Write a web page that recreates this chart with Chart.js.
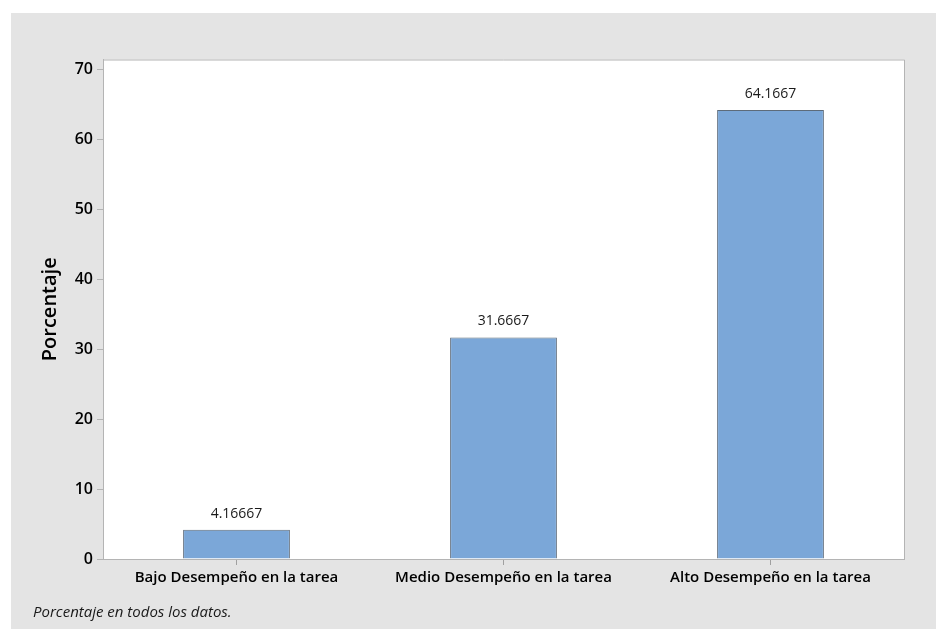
<!DOCTYPE html>
<html>
<head>
<meta charset="utf-8">
<script src="https://cdn.jsdelivr.net/npm/chart.js@4.4.1/dist/chart.umd.min.js"></script>
<style>
  html, body { margin: 0; padding: 0; background: #ffffff; }
  #panel { position: absolute; left: 11px; top: 13px; width: 925px; height: 616px; background: #e4e4e4; }
  #c { display: block; }
</style>
</head>
<body>
<div id="panel"><canvas id="c" width="925" height="616"></canvas></div>
<script>
const categories = ["Bajo Desempeño en la tarea", "Medio Desempeño en la tarea", "Alto Desempeño en la tarea"];
const values = [4.16667, 31.6667, 64.1667];
const valueLabels = ["4.16667", "31.6667", "64.1667"];
const yTicks = [0, 10, 20, 30, 40, 50, 60, 70];
const yTitle = "Porcentaje";
const footnote = "Porcentaje en todos los datos.";

const FONT = "'Open Sans', 'Noto Sans', sans-serif";

const framePlugin = {
  id: 'frame',
  afterDraw(chart) {
    const { ctx, chartArea: a } = chart;
    ctx.save();
    ctx.strokeStyle = '#b4b4b4';
    ctx.lineWidth = 1;
    ctx.beginPath();
    ctx.moveTo(a.left, a.top + 0.5);
    ctx.lineTo(a.right + 0.5, a.top + 0.5);
    ctx.lineTo(a.right + 0.5, a.bottom);
    ctx.stroke();
    ctx.restore();
  }
};

const bgPlugin = {
  id: 'plotbg',
  beforeDraw(chart) {
    const { ctx, chartArea: a } = chart;
    ctx.save();
    ctx.fillStyle = '#ffffff';
    ctx.fillRect(a.left, a.top, a.right - a.left, a.bottom - a.top);
    ctx.restore();
  }
};

const labelPlugin = {
  id: 'valueLabels',
  afterDatasetsDraw(chart) {
    const { ctx } = chart;
    const meta = chart.getDatasetMeta(0);
    ctx.save();
    ctx.fillStyle = '#1a1a1a';
    ctx.font = "14px " + FONT;
    ctx.textAlign = 'center';
    ctx.textBaseline = 'alphabetic';
    meta.data.forEach((bar, i) => {
      ctx.fillText(valueLabels[i], bar.x, bar.y - 12);
    });
    ctx.restore();
  }
};

const footPlugin = {
  id: 'footnote',
  afterDraw(chart) {
    const { ctx } = chart;
    ctx.save();
    ctx.fillStyle = '#1a1a1a';
    ctx.font = "italic 15px " + FONT;
    ctx.textAlign = 'left';
    ctx.textBaseline = 'alphabetic';
    ctx.fillText(footnote, 22, 604);
    ctx.restore();
  }
};

new Chart(document.getElementById('c'), {
  type: 'bar',
  data: {
    labels: categories,
    datasets: [{
      data: values,
      backgroundColor: '#7ba7d8',
      borderColor: '#5d6b7a',
      borderWidth: 1,
      categoryPercentage: 1.0,
      barPercentage: 0.4
    }]
  },
  options: {
    responsive: false,
    animation: false,
    layout: { padding: { left: 0, top: 46.5, right: 32, bottom: 0 } },
    plugins: { legend: { display: false }, tooltip: { enabled: false } },
    scales: {
      x: {
        grid: { display: true, offset: false, drawOnChartArea: false, drawTicks: true, tickLength: 6, tickWidth: 1, tickColor: '#a0a0a0' },
        border: { display: true, color: '#b4b4b4' },
        ticks: { color: '#000000', font: { family: FONT, size: 15, weight: '600' }, padding: 4, maxRotation: 0 },
        afterFit(scale) { scale.height = 70; }
      },
      y: {
        min: 0,
        max: 71.4,
        grid: { display: true, drawOnChartArea: false, tickLength: 6, tickColor: '#b4b4b4' },
        border: { display: true, color: '#b4b4b4' },
        ticks: {
          color: '#000000', font: { family: FONT, size: 16, weight: '600' }, padding: 4,
          stepSize: 10, includeBounds: false
        },
        afterBuildTicks(scale) { scale.ticks = yTicks.map(v => ({ value: v })); },
        title: { display: true, text: yTitle, color: '#000000', font: { family: FONT, size: 20, weight: '600' }, padding: { top: 27, bottom: 0 } },
        afterFit(scale) { scale.width = 92; }
      }
    }
  },
  plugins: [bgPlugin, framePlugin, labelPlugin, footPlugin]
});
</script>
</body>
</html>
